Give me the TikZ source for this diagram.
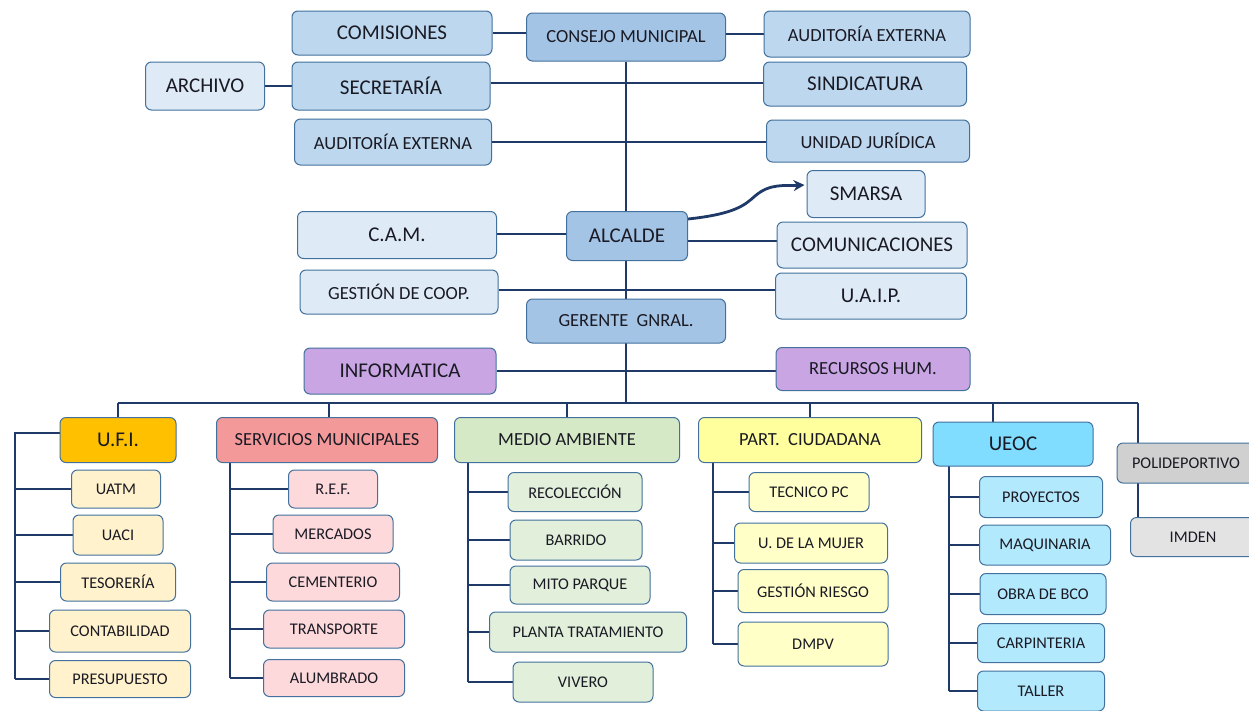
\documentclass[tikz,border=0pt]{standalone}
\usepackage{fontspec}
\setmainfont{Carlito}
\usetikzlibrary{calc,backgrounds,arrows.meta}
\definecolor{bordc}{HTML}{41719C}
\definecolor{linec}{HTML}{1F3A68}
\definecolor{txt}{HTML}{1A1A24}
\definecolor{topblue}{HTML}{BDD7EE}
\definecolor{midblue}{HTML}{A4C4E6}
\definecolor{pale}{HTML}{DEEBF7}
\definecolor{lav}{HTML}{C9A6E3}
\definecolor{ufic}{HTML}{FFC000}
\definecolor{ufich}{HTML}{FFF2CC}
\definecolor{servc}{HTML}{F4999A}
\definecolor{servch}{HTML}{FDD9DB}
\definecolor{medc}{HTML}{D6E9C6}
\definecolor{medch}{HTML}{E2EFDA}
\definecolor{partc}{HTML}{FFFF9E}
\definecolor{partch}{HTML}{FFFFC7}
\definecolor{ueocc}{HTML}{80DDFF}
\definecolor{ueocch}{HTML}{B3E9FD}
\definecolor{polic}{HTML}{D0D0D0}
\definecolor{imdenc}{HTML}{E3E3E3}
\newcommand{\myfs}[1]{\fontsize{#1}{#1}\selectfont}
\tikzset{
  box/.style={draw=bordc, line width=1pt, rounded corners=6pt, inner sep=0pt, text=txt, align=center},
  big/.style={font=\myfs{21}},
  med/.style={font=\myfs{18.5}},
  sml/.style={font=\myfs{16.3}},
  conn/.style={draw=linec, line width=2.8pt},
}
\begin{document}
\begin{tikzpicture}[x=1pt,y=-1pt]
\useasboundingbox (0,0) rectangle (1249,710);
% top level
\node[box,big,fill=topblue,minimum width=200,minimum height=44] (comis) at (392,33) {COMISIONES};
\node[box,med,fill=midblue,minimum width=199,minimum height=48] (consejo) at (626,37) {CONSEJO MUNICIPAL};
\node[box,med,fill=topblue,minimum width=206,minimum height=46] (audR) at (867,34) {AUDITORÍA EXTERNA};
\node[box,big,fill=pale,minimum width=119,minimum height=48] (archivo) at (205,86) {ARCHIVO};
\node[box,big,fill=topblue,minimum width=198,minimum height=48] (secr) at (391,86) {SECRETARÍA};
\node[box,big,fill=topblue,minimum width=203,minimum height=44] (sind) at (865,84) {SINDICATURA};
\node[box,med,fill=topblue,minimum width=197,minimum height=46] (audL) at (393,142) {AUDITORÍA EXTERNA};
\node[box,med,fill=topblue,minimum width=203,minimum height=42] (unidad) at (868,141) {UNIDAD JURÍDICA};
\node[box,big,fill=pale,minimum width=118,minimum height=47] (smarsa) at (866,194) {SMARSA};
\node[box,big,fill=pale,minimum width=199,minimum height=47] (cam) at (397,235) {C.A.M.};
\node[box,big,fill=midblue,minimum width=121,minimum height=49] (alcalde) at (627,236) {ALCALDE};
\node[box,big,fill=pale,minimum width=190,minimum height=46] (comunic) at (872,245) {COMUNICACIONES};
\node[box,med,fill=pale,minimum width=198,minimum height=44] (gestion) at (399,292) {GESTIÓN DE COOP.};
\node[box,big,fill=pale,minimum width=191,minimum height=46] (uaip) at (871,296) {U.A.I.P.};
\node[box,med,fill=midblue,minimum width=199,minimum height=44] (gerente) at (626,321) {GERENTE\ \ GNRAL.};
\node[box,big,fill=lav,minimum width=192,minimum height=46] (inform) at (400,371) {INFORMATICA};
\node[box,med,fill=lav,minimum width=194,minimum height=43] (recursos) at (873,369) {RECURSOS HUM.};
% departments
\node[box,big,fill=ufic,minimum width=116,minimum height=45] (ufi) at (118,440) {U.F.I.};
\node[box,med,fill=servc,minimum width=221,minimum height=45] (serv) at (327,440) {SERVICIOS MUNICIPALES};
\node[box,med,fill=medc,minimum width=225,minimum height=45] (medio) at (567,440) {MEDIO AMBIENTE};
\node[box,med,fill=partc,minimum width=223,minimum height=45] (part) at (810,440) {PART.\ \ CIUDADANA};
\node[box,big,fill=ueocc,minimum width=160,minimum height=44] (ueoc) at (1013,444) {UEOC};
\node[box,sml,fill=polic,minimum width=138,minimum height=40,text width=132] (poli) at (1186,463) {POLIDEPORTIVO};
\node[box,sml,fill=imdenc,minimum width=125,minimum height=39] (imden) at (1193,537) {IMDEN};
% UFI children
\node[box,sml,fill=ufich,minimum width=89,minimum height=38] (uatm) at (116,489) {UATM};
\node[box,sml,fill=ufich,minimum width=90,minimum height=40] (uaci) at (118,535) {UACI};
\node[box,sml,fill=ufich,minimum width=115,minimum height=38] (teso) at (118,582) {TESORERÍA};
\node[box,sml,fill=ufich,minimum width=141,minimum height=42] (conta) at (120,631) {CONTABILIDAD};
\node[box,sml,fill=ufich,minimum width=141,minimum height=37] (presup) at (120,679) {PRESUPUESTO};
% Servicios children
\node[box,sml,fill=servch,minimum width=89,minimum height=38] (ref) at (333,489) {R.E.F.};
\node[box,sml,fill=servch,minimum width=120,minimum height=38] (merc) at (333,534) {MERCADOS};
\node[box,sml,fill=servch,minimum width=133,minimum height=38] (cement) at (333,582) {CEMENTERIO};
\node[box,sml,fill=servch,minimum width=141,minimum height=38] (transp) at (334,629) {TRANSPORTE};
\node[box,sml,fill=servch,minimum width=141,minimum height=37] (alum) at (334,678) {ALUMBRADO};
% Medio ambiente children
\node[box,sml,fill=medch,minimum width=134,minimum height=39] (recol) at (575,492) {RECOLECCIÓN};
\node[box,sml,fill=medch,minimum width=132,minimum height=40] (barr) at (576,540) {BARRIDO};
\node[box,sml,fill=medch,minimum width=140,minimum height=38] (mito) at (580,585) {MITO PARQUE};
\node[box,sml,fill=medch,minimum width=197,minimum height=40] (planta) at (588,632) {PLANTA TRATAMIENTO};
\node[box,sml,fill=medch,minimum width=140,minimum height=40] (vivero) at (583,682) {VIVERO};
% Part. ciudadana children
\node[box,sml,fill=partch,minimum width=120,minimum height=39] (tecnico) at (809,492) {TECNICO PC};
\node[box,sml,fill=partch,minimum width=153,minimum height=40] (mujer) at (811,543) {U. DE LA MUJER};
\node[box,sml,fill=partch,minimum width=150,minimum height=43] (riesgo) at (813,591) {GESTIÓN RIESGO};
\node[box,sml,fill=partch,minimum width=150,minimum height=44] (dmpv) at (813,644) {DMPV};
% UEOC children
\node[box,sml,fill=ueocch,minimum width=123,minimum height=41] (proy) at (1041,497) {PROYECTOS};
\node[box,sml,fill=ueocch,minimum width=131,minimum height=40] (maq) at (1045,545) {MAQUINARIA};
\node[box,sml,fill=ueocch,minimum width=126,minimum height=41] (obra) at (1043,594) {OBRA DE BCO};
\node[box,sml,fill=ueocch,minimum width=127,minimum height=39] (carp) at (1041,643) {CARPINTERIA};
\node[box,sml,fill=ueocch,minimum width=127,minimum height=40] (taller) at (1041,691) {TALLER};
% connectors
\begin{scope}[on background layer]
\fill[white] (0,0) rectangle (1249,710);
\coordinate (busL) at (118,403);
\coordinate (busR) at (1138,403);
\draw[conn] (consejo.south) -- (consejo.south |- busL);
\draw[conn] (comis.east) -- (comis.east -| consejo.west);
\draw[conn] (consejo.east |- audR.west) -- (audR.west);
\draw[conn] (archivo.east) -- (archivo.east -| secr.west);
\draw[conn] ($(secr.east)+(0,-3)$) coordinate (s1) -- (s1 -| sind.west);
\draw[conn] (audL.east) -- (audL.east -| unidad.west);
\draw[conn] ($(cam.east)+(0,-1)$) coordinate (c1) -- (c1 -| alcalde.west);
\draw[conn] ($(alcalde.east)+(0,5)$) coordinate (a1) -- (a1 -| comunic.west);
\draw[conn] ($(gestion.east)+(0,-2)$) coordinate (g1) -- (g1 -| uaip.west);
\draw[conn] (inform.east) -- (inform.east -| recursos.west);
\draw[conn,-{Stealth[length=11pt,width=11pt]}] ($(alcalde.east)+(0,-17)$) .. controls (735,214) and (745,205) .. (755,196) .. controls (770,183) and (785,186) .. ($(smarsa.west)+(-2,-9)$);
\draw[conn] (busL) -- (busR);
\draw[conn] (ufi.north) -- (ufi.north |- busL);
\draw[conn] ($(serv.north)+(2,0)$) coordinate (sv) -- (sv |- busL);
\draw[conn] (medio.north) -- (medio.north |- busL);
\draw[conn] (part.north) -- (part.north |- busL);
\draw[conn] ($(ueoc.north)+(-20,0)$) coordinate (ue) -- (ue |- busL);
\draw[conn] (busR) -- (busR |- imden.north);
% UFI
\coordinate (ufiL) at (15,433);
\draw[conn] (ufiL -| ufi.west) -- (ufiL) -- (ufiL |- presup.west);
\foreach \c in {uatm,uaci,teso,conta,presup} \draw[conn] (\c.west) -- (\c.west -| ufiL);
% Servicios
\coordinate (servL) at (230,462);
\draw[conn] (servL) -- (servL |- alum.west);
\foreach \c in {ref,merc,cement,transp,alum} \draw[conn] (\c.west) -- (\c.west -| servL);
% Medio
\coordinate (medL) at (468,462);
\draw[conn] (medL) -- (medL |- vivero.west);
\foreach \c in {recol,barr,mito,planta,vivero} \draw[conn] (\c.west) -- (\c.west -| medL);
% Part
\coordinate (partL) at (713,462);
\draw[conn] (partL) -- (partL |- dmpv.west);
\foreach \c in {tecnico,mujer,riesgo,dmpv} \draw[conn] (\c.west) -- (\c.west -| partL);
% UEOC
\coordinate (ueocL) at (949,466);
\draw[conn] (ueocL) -- (ueocL |- taller.west);
\foreach \c in {proy,maq,obra,carp,taller} \draw[conn] (\c.west) -- (\c.west -| ueocL);
\end{scope}
\end{tikzpicture}
\end{document}
